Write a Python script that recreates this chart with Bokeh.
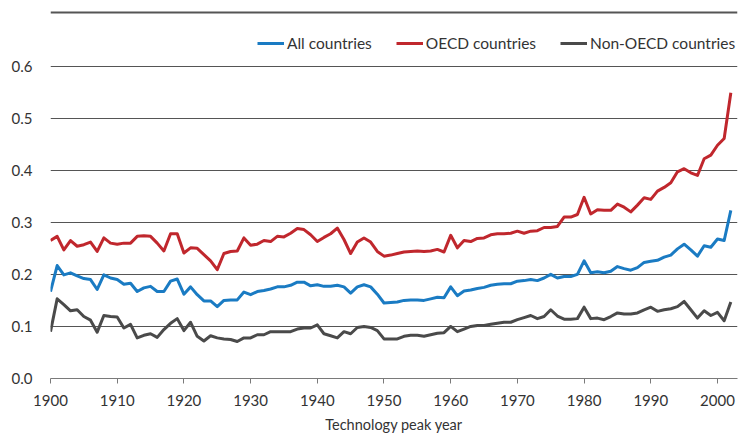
from bokeh.plotting import figure
from bokeh.models import FixedTicker, PrintfTickFormatter, Legend, LegendItem, Span
from bokeh.layouts import column
from bokeh.embed import file_html
from bokeh.resources import INLINE

years = list(range(1900, 2003))

all_countries = [
    0.167, 0.217, 0.199, 0.203, 0.197, 0.192, 0.190, 0.171, 0.199, 0.193,
    0.190, 0.181, 0.183, 0.167, 0.174, 0.177, 0.167, 0.167, 0.187, 0.191,
    0.162, 0.176, 0.161, 0.149, 0.149, 0.138, 0.150, 0.151, 0.151, 0.166,
    0.161, 0.167, 0.169, 0.172, 0.176, 0.176, 0.179, 0.185, 0.185, 0.178,
    0.180, 0.177, 0.177, 0.179, 0.176, 0.164, 0.176, 0.180, 0.176, 0.162,
    0.145, 0.146, 0.147, 0.150, 0.151, 0.151, 0.150, 0.153, 0.156, 0.155,
    0.176, 0.159, 0.168, 0.170, 0.173, 0.175, 0.179, 0.181, 0.182, 0.182,
    0.187, 0.188, 0.190, 0.188, 0.193, 0.200, 0.193, 0.196, 0.196, 0.200,
    0.226, 0.203, 0.205, 0.203, 0.206, 0.215, 0.211, 0.208, 0.213, 0.223,
    0.225, 0.227, 0.233, 0.237, 0.249, 0.258, 0.247, 0.235, 0.255, 0.252,
    0.268, 0.265, 0.323,
]

oecd = [
    0.265, 0.273, 0.247, 0.265, 0.254, 0.257, 0.262, 0.244, 0.270, 0.260,
    0.258, 0.260, 0.260, 0.273, 0.274, 0.273, 0.260, 0.245, 0.278, 0.278,
    0.241, 0.251, 0.250, 0.238, 0.226, 0.209, 0.240, 0.244, 0.245, 0.270,
    0.256, 0.258, 0.265, 0.263, 0.273, 0.272, 0.279, 0.288, 0.286, 0.276,
    0.263, 0.271, 0.278, 0.289, 0.267, 0.240, 0.262, 0.270, 0.262, 0.244,
    0.235, 0.237, 0.240, 0.243, 0.244, 0.245, 0.244, 0.245, 0.248, 0.243,
    0.275, 0.251, 0.265, 0.263, 0.269, 0.270, 0.276, 0.278, 0.278, 0.279,
    0.283, 0.279, 0.283, 0.284, 0.290, 0.290, 0.292, 0.310, 0.310, 0.315,
    0.348, 0.316, 0.324, 0.323, 0.323, 0.335, 0.329, 0.320, 0.333, 0.347,
    0.344, 0.360, 0.367, 0.376, 0.397, 0.403, 0.395, 0.390, 0.422, 0.429,
    0.448, 0.461, 0.549,
]

non_oecd = [
    0.090, 0.153, 0.142, 0.130, 0.132, 0.119, 0.112, 0.089, 0.121, 0.119,
    0.118, 0.097, 0.104, 0.078, 0.083, 0.086, 0.079, 0.094, 0.106, 0.115,
    0.092, 0.108, 0.081, 0.072, 0.082, 0.078, 0.076, 0.075, 0.071, 0.078,
    0.078, 0.084, 0.084, 0.090, 0.090, 0.090, 0.090, 0.095, 0.097, 0.097,
    0.103, 0.086, 0.082, 0.078, 0.090, 0.086, 0.098, 0.100, 0.098, 0.092,
    0.076, 0.076, 0.076, 0.081, 0.083, 0.083, 0.081, 0.084, 0.087, 0.088,
    0.100, 0.090, 0.095, 0.100, 0.102, 0.102, 0.104, 0.106, 0.108, 0.108,
    0.113, 0.117, 0.121, 0.115, 0.119, 0.132, 0.120, 0.114, 0.114, 0.115,
    0.137, 0.115, 0.116, 0.113, 0.119, 0.126, 0.124, 0.124, 0.126, 0.132,
    0.137, 0.129, 0.132, 0.134, 0.138, 0.148, 0.132, 0.116, 0.130, 0.121,
    0.127, 0.111, 0.147,
]

series_names = ["All countries", "OECD countries", "Non-OECD countries"]
series_colors = ["#1a7bc3", "#c0272d", "#4a4a4a"]
x_ticks = list(range(1900, 2001, 10))
y_ticks = [0.0, 0.1, 0.2, 0.3, 0.4, 0.5, 0.6]
x_title = "Technology peak year"

FONT = "Lato"
TXT = "#333333"
W = 741
RULE_H = 14

# thin figure carrying the top rule across the full width
rule = figure(width=W, height=RULE_H, output_backend="svg", toolbar_location=None,
              x_range=(0, 1), y_range=(0, 1), min_border=0,
              min_border_left=2, min_border_right=0)
rule.axis.visible = False
rule.grid.visible = False
rule.outline_line_color = None
rule.add_layout(Span(location=0.15, dimension="width", line_color="#555555", line_width=2))

p = figure(width=W, height=436 - RULE_H, output_backend="svg", toolbar_location=None,
           x_range=(1900, 2003), y_range=(0, 0.678),
           min_border_left=50, min_border_right=4, min_border_top=11,
           min_border_bottom=58)
p.outline_line_color = None
p.background_fill_color = "white"

renderers = []
for vals, col in zip([all_countries, oecd, non_oecd], series_colors):
    r = p.line(years, vals, line_color=col, line_width=3, line_join="round")
    renderers.append(r)

# axes
p.xaxis.ticker = FixedTicker(ticks=x_ticks)
p.xaxis.axis_line_color = "#7a7a7a"
p.xaxis.major_tick_line_color = "#7a7a7a"
p.xaxis.major_tick_out = 5
p.xaxis.major_tick_in = 0
p.xaxis.minor_tick_line_color = None
p.xaxis.major_label_standoff = 11
p.xaxis.major_label_text_font = FONT
p.xaxis.major_label_text_font_size = "15px"
p.xaxis.major_label_text_color = TXT
p.xaxis.axis_label = x_title
p.xaxis.axis_label_standoff = 7
p.xaxis.axis_label_text_font = FONT
p.xaxis.axis_label_text_font_size = "14.5px"
p.xaxis.axis_label_text_font_style = "normal"
p.xaxis.axis_label_text_color = TXT

p.yaxis.ticker = FixedTicker(ticks=y_ticks)
p.yaxis.formatter = PrintfTickFormatter(format="%.1f")
p.yaxis.axis_line_color = None
p.yaxis.major_tick_line_color = None
p.yaxis.major_tick_out = 0
p.yaxis.major_tick_in = 0
p.yaxis.minor_tick_line_color = None
p.yaxis.major_label_standoff = 18
p.yaxis.major_label_text_font = FONT
p.yaxis.major_label_text_font_size = "15px"
p.yaxis.major_label_text_color = TXT

p.xgrid.grid_line_color = None
p.ygrid.ticker = FixedTicker(ticks=y_ticks[1:])
p.ygrid.grid_line_color = "#555555"
p.ygrid.grid_line_width = 1

legend = Legend(
    items=[LegendItem(label=n, renderers=[r]) for n, r in zip(series_names, renderers)],
    orientation="horizontal", location=(207, 325),
    glyph_width=27, glyph_height=20, label_height=20, label_standoff=3,
    spacing=24, padding=0, margin=0,
    border_line_color=None, background_fill_alpha=0,
    label_text_font=FONT, label_text_font_size="15.5px", label_text_color=TXT,
)
p.add_layout(legend)

layout = column(rule, p, spacing=0)

open("out.html", "w").write(file_html(layout, INLINE))
